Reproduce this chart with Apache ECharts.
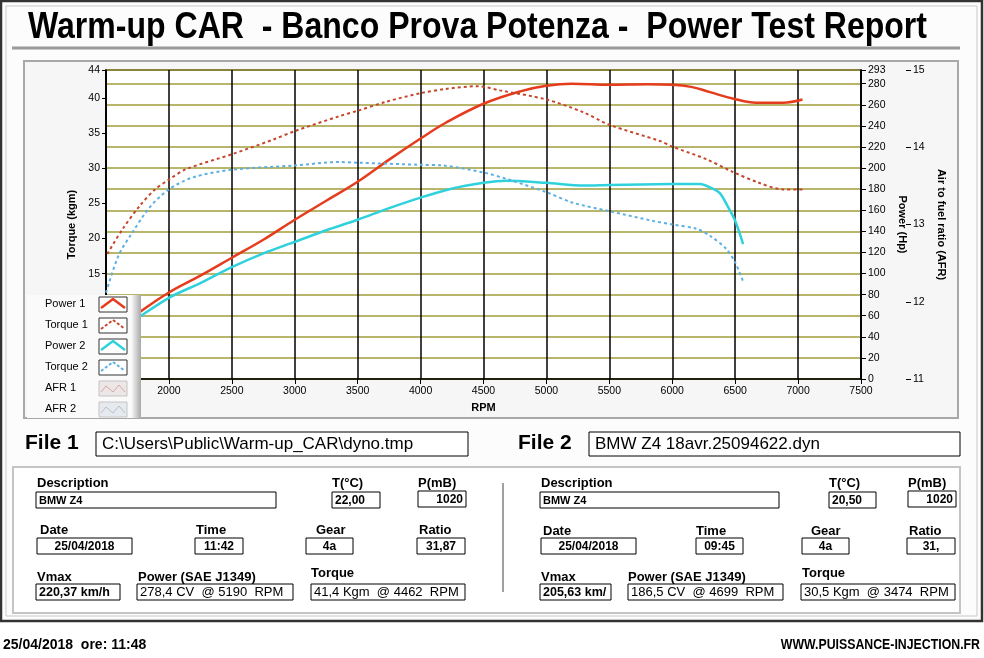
<!DOCTYPE html>
<html>
<head>
<meta charset="utf-8">
<title>Power Test Report</title>
<script src="https://cdn.jsdelivr.net/npm/echarts@6/dist/echarts.min.js"></script>
<style>
html, body { margin: 0; padding: 0; background: #ffffff; }
#chart { width: 984px; height: 658px; }
</style>
</head>
<body>
<div id="chart"></div>
<script>
/** curves */
var rpmPower1 = [1650, 1775, 2000, 2250, 2500, 2750, 3000, 3250, 3500, 3750, 4000, 4200, 4500, 4800, 5000, 5200, 5500, 5800, 6000, 6150, 6300, 6480, 6670, 6880, 7035];
var power1 = [53, 64, 82, 98, 115, 132, 151, 169, 187, 208, 228, 243, 261, 273, 278, 280, 279, 279.5, 279, 277, 272, 266, 262, 262, 265];
var rpmTorque1 = [1510, 1630, 1770, 1890, 2000, 2140, 2500, 2830, 3000, 3350, 3500, 3730, 4000, 4200, 4450, 4630, 5000, 5290, 5500, 5900, 6000, 6270, 6480, 6680, 6880, 7035];
var torque1 = [17.8, 21.3, 24.7, 27.0, 28.4, 29.9, 32.0, 34.1, 35.3, 37.4, 38.2, 39.5, 40.7, 41.3, 41.7, 41.1, 39.8, 38.0, 36.2, 33.9, 33.1, 31.3, 29.5, 28.0, 27.0, 27.0];
var rpmPower2 = [1650, 1780, 2000, 2250, 2500, 2770, 3000, 3250, 3500, 3750, 4000, 4230, 4500, 4680, 5000, 5300, 5500, 6000, 6220, 6330, 6380, 6440, 6500, 6563];
var power2 = [49, 60, 77, 91, 106, 120, 130, 141, 151, 162, 172, 180, 186, 188, 186, 183.5, 184, 184.8, 185, 180, 176, 164, 150, 128];
var rpmTorque2 = [1500, 1600, 1700, 1850, 2000, 2190, 2500, 3000, 3350, 3500, 4000, 4180, 4500, 4700, 5000, 5210, 5500, 5850, 6000, 6190, 6300, 6430, 6500, 6563];
var torque2 = [12.3, 17.6, 20.6, 24.5, 27.0, 28.7, 29.8, 30.4, 30.9, 30.8, 30.5, 30.4, 29.4, 28.4, 26.6, 25.1, 23.9, 22.5, 22.0, 21.4, 20.4, 18.5, 16.6, 13.9];

/** legend + texts */
var legendNames = ['Power 1', 'Torque 1', 'Power 2', 'Torque 2', 'AFR 1', 'AFR 2'];
var titleText = 'Warm-up CAR  - Banco Prova Potenza -  Power Test Report';
var fileNames = ['C:\\Users\\Public\\Warm-up_CAR\\dyno.tmp', 'BMW Z4 18avr.25094622.dyn'];
var infoLabels = ['Description', 'T(°C)', 'P(mB)', 'Date', 'Time', 'Gear', 'Ratio', 'Vmax', 'Power (SAE J1349)', 'Torque'];
var file1Info = ['BMW Z4', '22,00', '1020', '25/04/2018', '11:42', '4a', '31,87', '220,37 km/h', '278,4 CV  @ 5190  RPM', '41,4 Kgm  @ 4462  RPM'];
var file2Info = ['BMW Z4', '20,50', '1020', '25/04/2018', '09:45', '4a', '31,', '205,63 km/', '186,5 CV  @ 4699  RPM', '30,5 Kgm  @ 3474  RPM'];
var footerLeft = '25/04/2018  ore: 11:48';
var footerRight = 'WWW.PUISSANCE-INJECTION.FR';

var zip = function (xs, ys) {
    var res = [];
    for (var i = 0; i < xs.length; i++) res.push([xs[i], ys[i]]);
    return res;
};

var colors = ['#e63c1e', '#c4472b', '#2fd2dc', '#5cb0e2'];
var dashed = [false, true, false, true];

// field layout: [labelX, labelY, boxX, boxY, boxW, textAlign, font]
var valFont = 'bold 12px "Liberation Sans"';
var bigFont = '13px "Liberation Sans"';
var layout1 = [
    [37, 483, 36, 492, 240, 'left', 'bold 11px "Liberation Sans"'],
    [332, 483, 332, 492, 48, 'left', valFont],
    [418, 483, 418, 491, 48, 'right', valFont],
    [40, 530, 37, 538, 95, 'center', valFont],
    [196, 530, 195, 538, 48, 'center', valFont],
    [316, 530, 306, 538, 47, 'center', valFont],
    [419, 530, 417, 538, 48, 'center', valFont],
    [37, 577, 36, 584, 84, 'left', 'bold 12.5px "Liberation Sans"'],
    [138, 577, 137, 584, 156, 'left', bigFont],
    [311, 573, 311, 584, 154, 'left', bigFont]
];
var layout2 = [
    [541, 483, 540, 492, 239, 'left', 'bold 11px "Liberation Sans"'],
    [829, 483, 829, 492, 47, 'left', valFont],
    [908, 483, 908, 491, 48, 'right', valFont],
    [543, 531, 541, 538, 95, 'center', valFont],
    [696, 531, 696, 538, 47, 'center', valFont],
    [811, 531, 802, 538, 47, 'center', valFont],
    [909, 531, 907, 538, 48, 'center', valFont],
    [541, 577, 540, 584, 71, 'left', 'bold 12.5px "Liberation Sans"'],
    [628, 577, 628, 584, 155, 'left', bigFont],
    [802, 573, 801, 584, 154, 'left', bigFont]
];

function rect(x, y, w, h, fill, stroke, lw, z) {
    return { type: 'rect', z: z, shape: { x: x, y: y, width: w, height: h },
        style: { fill: fill, stroke: stroke, lineWidth: lw || 1 } };
}
function text(str, x, y, font, align, z, sx) {
    return { type: 'text', z: z || 5, x: x, y: y, scaleX: sx || 1, style: { text: str, x: 0, y: 0, font: font, fill: '#000',
        textAlign: align || 'left', align: align || 'left', textVerticalAlign: 'middle', verticalAlign: 'middle' } };
}
function line(pts, color, lw, z, dash) {
    return { type: 'polyline', z: z, shape: { points: pts },
        style: { stroke: color, lineWidth: lw, fill: null, lineDash: dash || null } };
}

var graphics = [];
// frame and panels
graphics.push(rect(1, 1, 981, 620, '#fcfcfc', '#333', 2.5, -20));
graphics.push(rect(6, 6, 971, 610, null, '#c8c8c8', 1, -19));
graphics.push(line([[12, 48], [960, 48]], '#9a9a9a', 3, -18));
graphics.push(rect(24, 61, 934, 357, '#f6f6f6', '#a8a8a8', 2, -18));
graphics.push(rect(106, 70, 755, 309, '#ffffff', null, 0, -17));
graphics.push(rect(13, 467, 947, 146, '#ffffff', '#c4c4c4', 2, -18));
graphics.push(line([[503, 483], [503, 592]], '#a0a0a0', 2, -17));
graphics.push(text(titleText, 28, 28, 'bold 36px "Liberation Sans"', 'left', 5, 0.89));

// file rows
graphics.push(text('File 1', 25, 443, 'bold 21px "Liberation Sans"', 'left'));
graphics.push(rect(96, 432, 372, 24, '#ffffff', '#000', 1, -5));
graphics.push(text(fileNames[0], 102, 444, '17px "Liberation Sans"', 'left'));
graphics.push(text('File 2', 518, 443, 'bold 21px "Liberation Sans"', 'left'));
graphics.push(rect(589, 432, 371, 24, '#ffffff', '#000', 1, -5));
graphics.push(text(fileNames[1], 595, 444, '17px "Liberation Sans"', 'left'));

function addInfo(values, lay) {
    for (var i = 0; i < values.length; i++) {
        var L = lay[i];
        graphics.push(text(infoLabels[i], L[0], L[1], 'bold 13px "Liberation Sans"', 'left'));
        graphics.push(rect(L[2], L[3], L[4], 16, '#ffffff', '#000', 1, -5));
        var tx = L[5] === 'left' ? L[2] + 3 : (L[5] === 'right' ? L[2] + L[4] - 3 : L[2] + L[4] / 2);
        graphics.push(text(values[i], tx, L[3] + 8.5, L[6], L[5]));
    }
}
addInfo(file1Info, layout1);
addInfo(file2Info, layout2);

graphics.push(text(footerLeft, 3, 645, 'bold 14px "Liberation Sans"', 'left'));
graphics.push(text(footerRight, 980, 645, 'bold 14px "Liberation Sans"', 'right', 5, 0.88));

// legend panel in the lower-left corner of the chart
graphics.push(rect(27, 295, 114, 123, '#fafafa', null, 0, 100));
graphics.push({ type: 'rect', z: 101, shape: { x: 132, y: 295, width: 9, height: 123 },
    style: { fill: { type: 'linear', x: 0, y: 0, x2: 1, y2: 0,
        colorStops: [{ offset: 0, color: '#f4f4f4' }, { offset: 1, color: '#a8a8a8' }] } } });
for (var k = 0; k < legendNames.length; k++) {
    var ly = 304 + 21 * k;
    graphics.push(text(legendNames[k], 45, ly, '11px "Liberation Sans"', 'left', 102));
    if (k < 4) {
        graphics.push(rect(99, ly - 7, 28, 15, '#ffffff', '#333', 1, 102));
        graphics.push(line([[101, ly + 4], [113, ly - 5], [125, ly + 4]], colors[k], dashed[k] ? 2 : 2.5, 103, dashed[k] ? [3, 2] : null));
    } else {
        graphics.push(rect(99, ly - 7, 28, 15, k === 4 ? '#ece6e6' : '#e6e9ee', '#c4c4c4', 1, 102));
        graphics.push(line([[101, ly + 4], [106, ly - 2], [113, ly + 4], [119, ly - 3], [125, ly + 4]],
            k === 4 ? '#d4a8a8' : '#b4c0d0', 1, 103));
    }
}

var plain = function (v) { return String(v); };
var axisFont = { color: '#000', fontSize: 10.5, fontFamily: 'Liberation Sans', formatter: plain };
var nameFont = { color: '#000', fontSize: 11, fontWeight: 'bold', fontFamily: 'Liberation Sans' };

var myChart = echarts.init(document.getElementById('chart'), null, { renderer: 'canvas' });
var option = {
    animation: false,
    backgroundColor: '#ffffff',
    graphic: { elements: graphics },
    grid: { left: 106, right: 123, top: 70, bottom: 279, show: true,
        borderColor: '#000', borderWidth: 1.5 },
    xAxis: {
        type: 'value', min: 1500, max: 7500, interval: 500,
        name: 'RPM', nameLocation: 'middle', nameGap: 23, nameTextStyle: nameFont,
        axisLine: { lineStyle: { color: '#000', width: 1.5 } },
        axisTick: { length: 5, lineStyle: { color: '#000' } },
        axisLabel: Object.assign({ margin: 7 }, axisFont),
        splitLine: { show: true, lineStyle: { color: '#000', width: 1.5 } }
    },
    yAxis: [
        {
            type: 'value', min: 0, max: 44, interval: 5, position: 'left',
            name: 'Torque (kgm)', nameLocation: 'middle', nameGap: 25, nameRotate: 90, nameTextStyle: nameFont,
            axisLine: { show: true, lineStyle: { color: '#000', width: 1.5 } },
            axisTick: { show: true, length: 4, lineStyle: { color: '#000' } },
            axisLabel: Object.assign({ margin: 6 }, axisFont),
            splitLine: { show: false }
        },
        {
            type: 'value', min: 0, max: 293, interval: 20, position: 'right',
            name: 'Power (Hp)', nameLocation: 'middle', nameGap: 31, nameRotate: -90, nameTextStyle: nameFont,
            axisLine: { show: true, lineStyle: { color: '#000', width: 1.5 } },
            axisTick: { show: true, length: 5, lineStyle: { color: '#000' } },
            axisLabel: Object.assign({ margin: 7 }, axisFont),
            splitLine: { show: true, lineStyle: { color: '#a29c38', width: 1.5 } }
        },
        {
            type: 'value', min: 11, max: 15, interval: 1, position: 'right', offset: 45,
            name: 'Air to fuel ratio (AFR)', nameLocation: 'middle', nameGap: 24, nameRotate: -90, nameTextStyle: nameFont,
            axisLine: { show: false },
            axisTick: { show: true, length: 5, lineStyle: { color: '#000' } },
            axisLabel: Object.assign({ margin: 7 }, axisFont),
            splitLine: { show: false }
        }
    ],
    series: [
        { name: legendNames[0], type: 'line', yAxisIndex: 1, data: zip(rpmPower1, power1), showSymbol: false, symbol: 'none',
            smooth: 0.4, lineStyle: { color: colors[0], width: 2.5 }, z: 5 },
        { name: legendNames[1], type: 'line', yAxisIndex: 0, data: zip(rpmTorque1, torque1), showSymbol: false, symbol: 'none',
            smooth: 0.3, lineStyle: { color: colors[1], width: 2, type: [3, 3] }, z: 5 },
        { name: legendNames[2], type: 'line', yAxisIndex: 1, data: zip(rpmPower2, power2), showSymbol: false, symbol: 'none',
            smooth: 0.3, lineStyle: { color: colors[2], width: 2.5 }, z: 5 },
        { name: legendNames[3], type: 'line', yAxisIndex: 0, data: zip(rpmTorque2, torque2), showSymbol: false, symbol: 'none',
            smooth: 0.3, lineStyle: { color: colors[3], width: 2, type: [3, 3] }, z: 5 }
    ]
};
myChart.setOption(option);
</script>
</body>
</html>
